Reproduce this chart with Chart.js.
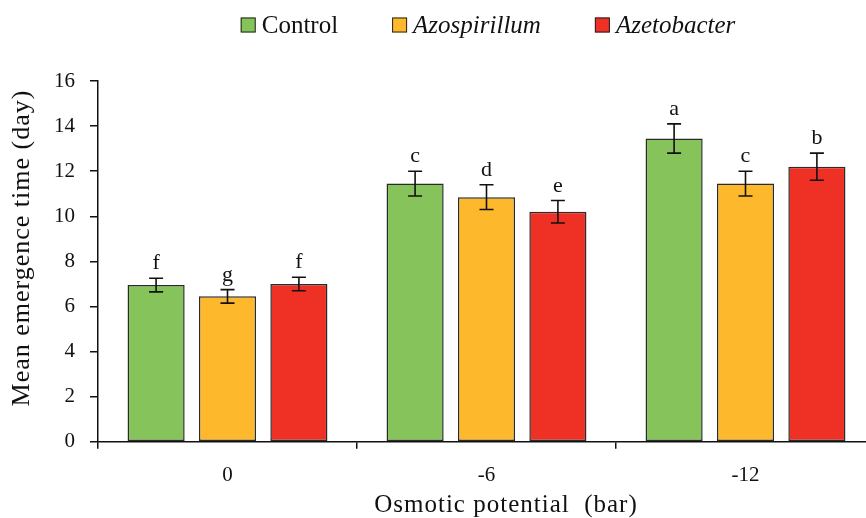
<!DOCTYPE html>
<html>
<head>
<meta charset="utf-8">
<script src="https://cdn.jsdelivr.net/npm/chart.js@4.4.1/dist/chart.umd.min.js"></script>
<style>
  html, body { margin: 0; padding: 0; background: #fff; overflow: hidden; width: 866px; height: 518px; }
  #wrap { position: relative; width: 880px; height: 518px; }
</style>
</head>
<body>
<div id="wrap"><canvas id="chart" width="880" height="518"></canvas></div>
<script>
// Osmotic potential levels (bar)
const categories = ['0', '-6', '-12'];

// Mean emergence time (day)
const controlValues = [6.95, 11.45, 13.45];
const azospirillumValues = [6.45, 10.85, 11.45];
const azetobacterValues = [7.0, 10.2, 12.2];

// Standard errors
const controlErrors = [0.3, 0.55, 0.65];
const azospirillumErrors = [0.3, 0.55, 0.55];
const azetobacterErrors = [0.3, 0.5, 0.6];

// Mean separation letters
const controlLetters = ['f', 'c', 'a'];
const azospirillumLetters = ['g', 'd', 'c'];
const azetobacterLetters = ['f', 'e', 'b'];

const yTicks = [0, 2, 4, 6, 8, 10, 12, 14, 16];

const seriesNames = ['Control', 'Azospirillum', 'Azetobacter'];
const seriesItalic = [false, true, true];
const seriesColors = ['#86C35B', '#FDB92B', '#EE3124'];

const SERIF = '"Liberation Serif", "Times New Roman", serif';

const datasets = [
  { label: seriesNames[0], data: controlValues, errors: controlErrors, letters: controlLetters },
  { label: seriesNames[1], data: azospirillumValues, errors: azospirillumErrors, letters: azospirillumLetters },
  { label: seriesNames[2], data: azetobacterValues, errors: azetobacterErrors, letters: azetobacterLetters }
].map((d, i) => Object.assign(d, {
  backgroundColor: seriesColors[i],
  borderColor: '#2a2a2a',
  borderWidth: 1.5,
  borderSkipped: false,
  categoryPercentage: 0.827,
  barPercentage: 0.8
}));

// Error bars with caps and significance letters above them
const errorBarPlugin = {
  id: 'errorBars',
  afterDatasetsDraw(chart) {
    const ctx = chart.ctx;
    const y = chart.scales.y;
    ctx.save();
    ctx.strokeStyle = '#111';
    ctx.lineWidth = 1.6;
    ctx.fillStyle = '#111';
    ctx.font = '22px ' + SERIF;
    ctx.textAlign = 'center';
    ctx.textBaseline = 'alphabetic';
    chart.data.datasets.forEach((ds, di) => {
      const meta = chart.getDatasetMeta(di);
      meta.data.forEach((bar, i) => {
        const v = ds.data[i], e = ds.errors[i];
        const top = y.getPixelForValue(v + e);
        const bot = y.getPixelForValue(v - e);
        const x = bar.x;
        const cap = 7;
        ctx.beginPath();
        ctx.moveTo(x, top); ctx.lineTo(x, bot);
        ctx.moveTo(x - cap, top); ctx.lineTo(x + cap, top);
        ctx.moveTo(x - cap, bot); ctx.lineTo(x + cap, bot);
        ctx.stroke();
        ctx.fillText(ds.letters[i], x, top - 9);
      });
    });
    ctx.restore();
  }
};

// Legend row and axis titles
const decorPlugin = {
  id: 'decor',
  afterDraw(chart) {
    const ctx = chart.ctx;
    ctx.save();
    ctx.fillStyle = '#111';

    // legend
    const box = 15, boxGap = 6, itemGap = 54, cy = 25;
    ctx.textBaseline = 'middle';
    ctx.textAlign = 'left';
    const widths = seriesNames.map((n, i) => {
      ctx.font = (seriesItalic[i] ? 'italic ' : '') + '25px ' + SERIF;
      return ctx.measureText(n).width;
    });
    const total = widths.reduce((s, w) => s + box + boxGap + w, 0) + itemGap * (seriesNames.length - 1);
    let x = 488 - total / 2;
    seriesNames.forEach((n, i) => {
      ctx.fillStyle = seriesColors[i];
      ctx.fillRect(x, cy - box / 2, box, box);
      ctx.strokeStyle = '#222';
      ctx.lineWidth = 1;
      ctx.strokeRect(x + 0.5, cy - box / 2 + 0.5, box - 1, box - 1);
      ctx.fillStyle = '#111';
      ctx.font = (seriesItalic[i] ? 'italic ' : '') + '25px ' + SERIF;
      ctx.fillText(n, x + box + boxGap, cy + 1);
      x += box + boxGap + widths[i] + itemGap;
    });

    // y-axis title
    ctx.font = '26px ' + SERIF;
    ctx.letterSpacing = '1px';
    ctx.textAlign = 'center';
    ctx.textBaseline = 'middle';
    ctx.save();
    ctx.translate(22, 248);
    ctx.rotate(-Math.PI / 2);
    ctx.fillText('Mean emergence time (day)', 0, 0);
    ctx.restore();

    // x-axis title
    ctx.font = '25px ' + SERIF;
    ctx.fillText('Osmotic potential  (bar)', 506, 505);
    ctx.restore();
  }
};

new Chart(document.getElementById('chart'), {
  type: 'bar',
  data: { labels: categories, datasets },
  options: {
    responsive: false,
    animation: false,
    devicePixelRatio: 1,
    layout: { padding: { top: 81, left: 39, right: 5, bottom: 16 } },
    plugins: { legend: { display: false }, tooltip: { enabled: false }, title: { display: false } },
    scales: {
      x: {
        grid: { offset: true, drawOnChartArea: false, drawTicks: true, tickLength: 7, color: '#111', lineWidth: 1.5 },
        border: { display: true, color: '#111', width: 1.5 },
        ticks: { color: '#111', font: { family: SERIF, size: 21 }, padding: 14 }
      },
      y: {
        min: 0,
        max: 16,
        afterBuildTicks(scale) { scale.ticks = yTicks.map(v => ({ value: v })); },
        grid: { drawOnChartArea: false, drawTicks: true, tickLength: 8, color: '#111', lineWidth: 1.5 },
        border: { display: true, color: '#111', width: 1.5 },
        ticks: { color: '#111', font: { family: SERIF, size: 21 }, padding: 15 }
      }
    }
  },
  plugins: [errorBarPlugin, decorPlugin]
});
</script>
</body>
</html>
